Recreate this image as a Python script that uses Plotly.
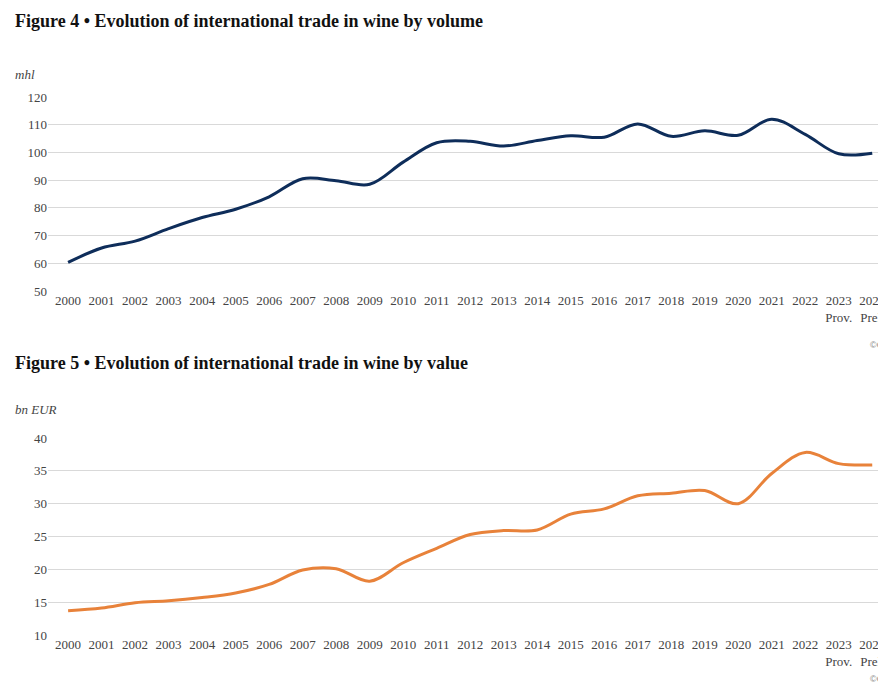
import plotly.graph_objects as go

years = list(range(2000, 2025))
tick_labels = [str(y) for y in range(2000, 2023)] + ["2023<br>Prov.", "2024<br>Prel."]
volume = [60.3, 65.5, 68, 72.5, 76.5, 79.5, 84, 90.5, 89.8, 88.5, 96.5, 103.5, 104, 102.3,
          104.3, 106, 105.5, 110.3, 105.8, 107.8, 106.2, 112, 106.5, 99.5, 99.7]
value = [13.7, 14.1, 14.9, 15.2, 15.7, 16.4, 17.7, 19.9, 20.1, 18.2, 21, 23.2, 25.3, 25.9,
         26, 28.4, 29.2, 31.2, 31.6, 32, 30, 34.6, 37.8, 36.1, 35.9]

fig = go.Figure()
fig.add_trace(go.Scatter(x=years, y=volume, mode="lines", line=dict(color="#0e2d5a", width=3, shape="spline"),
                         xaxis="x", yaxis="y", showlegend=False))
fig.add_trace(go.Scatter(x=years, y=value, mode="lines", line=dict(color="#e8823a", width=3, shape="spline"),
                         xaxis="x2", yaxis="y2", showlegend=False))

xd = [40/886, 881/886]
xcommon = dict(range=[1999.4, 2024.5], domain=xd, tickvals=years, ticktext=tick_labels,
               showgrid=False, zeroline=False, showline=False, ticks="", automargin=False,
               tickfont=dict(family="Liberation Serif", size=13, color="#444"))
ycommon = dict(showgrid=True, gridcolor="#d9d9d9", zeroline=False, ticks="", automargin=False,
               tickfont=dict(family="Liberation Serif", size=13, color="#444"))
fig.update_layout(
    width=886, height=689, margin=dict(l=0, r=0, t=0, b=0, autoexpand=False),
    plot_bgcolor="white", paper_bgcolor="white",
    xaxis=dict(**xcommon, anchor="y"),
    yaxis=dict(**ycommon, range=[50, 120], dtick=10, domain=[1-283/689, 1-89/689], anchor="x"),
    xaxis2=dict(**xcommon, anchor="y2"),
    yaxis2=dict(**ycommon, range=[10, 40], dtick=5, domain=[1-627/689, 1-430/689], anchor="x2"),
    annotations=[
        dict(text="<b>Figure 4 • Evolution of international trade in wine by volume</b>", x=5/886, y=1-13/689,
             xref="paper", yref="paper", xanchor="left", yanchor="middle", showarrow=False,
             font=dict(family="Liberation Serif", size=18, color="#111")),
        dict(text="<b>Figure 5 • Evolution of international trade in wine by value</b>", x=5/886, y=1-355/689,
             xref="paper", yref="paper", xanchor="left", yanchor="middle", showarrow=False,
             font=dict(family="Liberation Serif", size=18, color="#111")),
        dict(text="<i>mhl</i>", x=5/886, y=1-57/689, xref="paper", yref="paper", xanchor="left",
             showarrow=False, font=dict(family="Liberation Serif", size=13, color="#444")),
        dict(text="<i>bn EUR</i>", x=5/886, y=1-401/689, xref="paper", yref="paper", xanchor="left",
             showarrow=False, font=dict(family="Liberation Serif", size=13, color="#444")),
        dict(text="©OIV", x=1, y=1-337/689, xref="paper", yref="paper", xanchor="right",
             showarrow=False, font=dict(family="Liberation Sans", size=9, color="#888")),
        dict(text="©OIV", x=1, y=1-678/689, xref="paper", yref="paper", xanchor="right",
             showarrow=False, font=dict(family="Liberation Sans", size=9, color="#888")),
    ],
)
fig.write_html("out.html")
